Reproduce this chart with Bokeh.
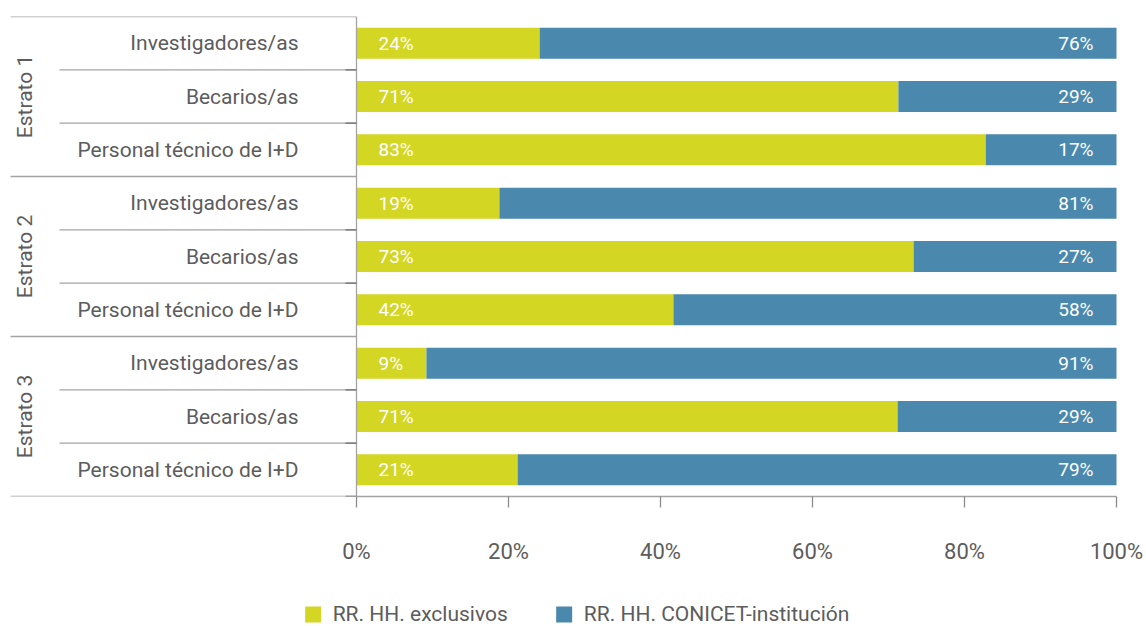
import math
from bokeh.plotting import figure
from bokeh.layouts import column
from bokeh.models import (Range1d, FixedTicker, PrintfTickFormatter, ColumnDataSource,
                          Legend, LegendItem)
from bokeh.core.properties import value
from bokeh.embed import file_html
from bokeh.resources import INLINE

# ---------------- data ----------------
estratos = ["Estrato 1", "Estrato 2", "Estrato 3"]
row_labels = ["Investigadores/as", "Becarios/as", "Personal técnico de I+D",
              "Investigadores/as", "Becarios/as", "Personal técnico de I+D",
              "Investigadores/as", "Becarios/as", "Personal técnico de I+D"]
exclusivos = [24.1, 71.3, 82.8, 18.8, 73.3, 41.7, 9.2, 71.2, 21.2]
conicet = [75.9, 28.7, 17.2, 81.2, 26.7, 58.3, 90.8, 28.8, 78.8]
series_names = ["RR. HH. exclusivos", "RR. HH. CONICET-institución"]
x_ticks = [0, 20, 40, 60, 80, 100]

GREEN = "#d3d622"
BLUE = "#4a89ad"
TEXT = "#5c5c5c"
LINE = "#a3a3a3"
FONT = "Roboto"

PX = 7.6  # pixels per percent unit
x_start = -348 / PX
x_end = 100 + 28 / PX
x_group = -346 / PX
x_sub = -297 / PX

n = len(row_labels)
centers = [i + 0.5 for i in range(n)]

src = ColumnDataSource(dict(
    y=centers,
    excl=exclusivos,
    inst=conicet,
    total=[a + b for a, b in zip(exclusivos, conicet)],
    zero=[0] * n,
    lab_l=[f"{round(v)}%" for v in exclusivos],
    lab_r=[f"{round(v)}%" for v in conicet],
    cat=row_labels,
))

p = figure(frame_width=1136, frame_height=480, x_range=Range1d(x_start, x_end), y_range=Range1d(n, 0),
           output_backend="svg", toolbar_location=None, y_axis_location=None,
           min_border_left=8, min_border_right=2, min_border_top=16, min_border_bottom=74)
p.outline_line_color = None
p.xgrid.visible = False
p.ygrid.visible = False
p.background_fill_color = "white"
p.border_fill_color = "white"

rs = p.hbar_stack(["excl", "inst"], y="y", height=0.58, color=[GREEN, BLUE],
                  line_width=0, source=src)

# structure lines on the left
n_groups = len(estratos)
per = n // n_groups
gy = [g * per for g in range(n_groups + 1)]
sy = [g * per + k for g in range(n_groups) for k in range(1, per)]
p.segment(x0=[x_group] * len(gy), y0=gy, x1=[0] * len(gy), y1=gy, line_color=LINE, line_width=1.3)
p.segment(x0=[x_sub] * len(sy), y0=sy, x1=[0] * len(sy), y1=sy, line_color=LINE, line_width=1.3)
p.segment(x0=[0], y0=[0], x1=[0], y1=[n], line_color=LINE, line_width=1.3)
ty = sy + [n]
p.segment(x0=[-11 / PX] * len(ty), y0=ty, x1=[0] * len(ty), y1=ty, line_color="#6e6e6e", line_width=1.3)

# category labels
p.text(x="zero", y="y", text="cat", source=src, x_offset=-58, text_align="right",
       text_baseline="middle", text_font=value(FONT), text_font_size="21px", text_color=TEXT)
p.text(x=[x_group] * n_groups, y=[g * per + per / 2 for g in range(n_groups)], text=estratos,
       x_offset=14, angle=math.pi / 2, text_align="center", text_baseline="middle",
       text_font=value(FONT), text_font_size="21px", text_color=TEXT)

# value labels
p.text(x="zero", y="y", text="lab_l", source=src, x_offset=22, text_align="left",
       text_baseline="middle", text_font=value(FONT), text_font_size="19px", text_color="white")
p.text(x="total", y="y", text="lab_r", source=src, x_offset=-23, text_align="right",
       text_baseline="middle", text_font=value(FONT), text_font_size="19px", text_color="white")

ax = p.xaxis[0]
ax.bounds = (0, 100)
ax.ticker = FixedTicker(ticks=x_ticks)
ax.formatter = PrintfTickFormatter(format="%d%%")
ax.axis_line_color = LINE
ax.axis_line_width = 1.3
ax.major_tick_line_color = "#8a8a8a"
ax.major_tick_line_width = 1.3
ax.major_tick_in = 0
ax.major_tick_out = 11
ax.minor_tick_line_color = None
ax.major_label_standoff = 31
ax.major_label_text_font = FONT
ax.major_label_text_font_size = "22px"
ax.major_label_text_color = TEXT

# legend strip below the chart (swatch renderers sit outside the visible range)
p2 = figure(width=1146, height=56, x_range=Range1d(0, 1), y_range=Range1d(0, 1),
            output_backend="svg", toolbar_location=None,
            x_axis_location=None, y_axis_location=None,
            min_border_left=6, min_border_right=0, min_border_top=0, min_border_bottom=0)
p2.outline_line_color = None
p2.xgrid.visible = False
p2.ygrid.visible = False
sw0 = p2.hbar(y=[-10], right=[0], height=0.5, color=GREEN, line_width=0)
sw1 = p2.hbar(y=[-10], right=[0], height=0.5, color=BLUE, line_width=0)

legend = Legend(items=[LegendItem(label=series_names[0], renderers=[sw0]),
                       LegendItem(label=series_names[1], renderers=[sw1])],
                orientation="horizontal", location="bottom_center",
                glyph_width=20, glyph_height=20, label_standoff=10, spacing=46,
                padding=0, margin=0, border_line_alpha=0, background_fill_alpha=0,
                label_text_font=FONT, label_text_font_size="21px", label_text_color=TEXT,
                label_height=20)
p2.add_layout(legend)

layout = column(p, p2, spacing=0)
open("out.html", "w").write(file_html(layout, INLINE))
